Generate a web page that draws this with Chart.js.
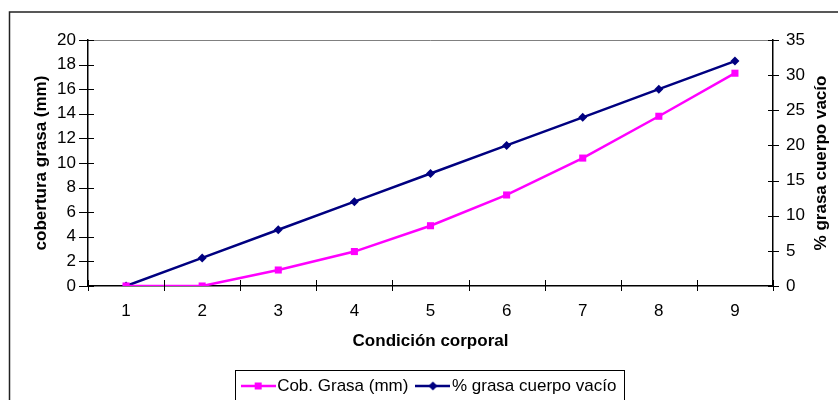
<!DOCTYPE html>
<html>
<head>
<meta charset="utf-8">
<script src="https://cdn.jsdelivr.net/npm/chart.js@4/dist/chart.umd.min.js"></script>
<style>
    html, body { margin: 0; padding: 0; background: #fff; }
    #wrap { width: 838px; height: 400px; position: relative; }
</style>
</head>
<body>
<div id="wrap"><canvas id="chart" width="838" height="400"></canvas></div>
<script>
// ==================== DATOS ====================
const categories = ['1', '2', '3', '4', '5', '6', '7', '8', '9'];
const cobGrasa = [0, 0, 1.3, 2.8, 4.9, 7.4, 10.4, 13.8, 17.3];
const grasaCuerpo = [0, 4, 8, 12, 16, 20, 24, 28, 32];
const rightTitle = '% grasa cuerpo vacío';

const PINK = '#ff00ff';
const NAVY = '#000080';
const FONT = 'Liberation Sans, Arial, sans-serif';

// icono de leyenda: línea + marcador
function legendIcon(color, style) {
    const c = document.createElement('canvas');
    c.width = 35;
    c.height = 12;
    const g = c.getContext('2d');
    g.strokeStyle = color;
    g.fillStyle = color;
    g.lineWidth = 2.5;
    g.beginPath();
    g.moveTo(0, 6);
    g.lineTo(35, 6);
    g.stroke();
    g.beginPath();
    if (style === 'rect') {
        g.rect(14, 2.5, 7, 7);
    } else {
        g.moveTo(17.5, 1.5);
        g.lineTo(22, 6);
        g.lineTo(17.5, 10.5);
        g.lineTo(13, 6);
        g.closePath();
    }
    g.fill();
    return c;
}

// marco exterior, ticks cruzados, título derecho y caja de la leyenda
const decorPlugin = {
    id: 'decor',
    afterLayout(chart) {
        const lg = chart.legend;
        const pad = lg.options.labels.padding;
        const top = 377.5 - pad;
        const h = lg.height;
        lg.top = top;
        lg.bottom = top + h;
    },
    beforeDraw(chart) {
        const ctx = chart.ctx;
        ctx.save();
        ctx.strokeStyle = '#222';
        ctx.lineWidth = 1.5;
        ctx.strokeRect(9.5, 12, 900, 500);
        ctx.restore();
    },
    afterDraw(chart) {
        const ctx = chart.ctx;
        const x = chart.scales.x;
        const yL = chart.scales.y;
        const yR = chart.scales.y2;
        ctx.save();
        ctx.strokeStyle = '#000';
        ctx.lineWidth = 1;
        ctx.beginPath();
        for (let i = 0; i <= categories.length; i++) {
            const px = Math.round(x.getPixelForValue(i - 0.5)) + 0.5;
            ctx.moveTo(px, x.top - 6);
            ctx.lineTo(px, x.top + 5);
        }
        yL.ticks.forEach((t, i) => {
            const py = Math.round(yL.getPixelForTick(i)) + 0.5;
            ctx.moveTo(yL.right - 9, py);
            ctx.lineTo(yL.right + 6, py);
        });
        yR.ticks.forEach((t, i) => {
            const py = Math.round(yR.getPixelForTick(i)) + 0.5;
            ctx.moveTo(yR.left - 5, py);
            ctx.lineTo(yR.left + 6, py);
        });
        ctx.stroke();

        // título del eje derecho (de abajo hacia arriba, como en Excel)
        ctx.save();
        ctx.translate(yR.right - 17, (yR.top + yR.bottom) / 2);
        ctx.rotate(-Math.PI / 2);
        ctx.fillStyle = '#000';
        ctx.font = 'bold 17px ' + FONT;
        ctx.textAlign = 'center';
        ctx.textBaseline = 'middle';
        ctx.fillText(rightTitle, 0, 0);
        ctx.restore();

        // caja de la leyenda
        const hb = chart.legend.legendHitBoxes;
        if (hb && hb.length) {
            const first = hb[0];
            const last = hb[hb.length - 1];
            ctx.strokeStyle = '#000';
            ctx.lineWidth = 1;
            const left = Math.round(first.left - 13) + 0.5;
            const right = Math.round(last.left + last.width + 8) + 0.5;
            const top = Math.round(first.top - 7.5) + 0.5;
            ctx.strokeRect(left, top, right - left, 60);
        }
        ctx.restore();
    }
};

// ==================== CHART ====================
const chart = new Chart(document.getElementById('chart').getContext('2d'), {
    type: 'line',
    data: {
        labels: categories,
        datasets: [{
            label: 'Cob. Grasa (mm)',
            data: cobGrasa,
            yAxisID: 'y',
            borderColor: PINK,
            backgroundColor: PINK,
            borderWidth: 2.5,
            pointStyle: 'rect',
            pointRadius: 5,
            pointBorderWidth: 0,
            tension: 0,
            fill: false
        }, {
            label: rightTitle,
            data: grasaCuerpo,
            yAxisID: 'y2',
            borderColor: NAVY,
            backgroundColor: NAVY,
            borderWidth: 2.5,
            pointStyle: 'rectRot',
            pointRadius: 4.5,
            pointBorderWidth: 0,
            tension: 0,
            fill: false
        }]
    },
    options: {
        responsive: false,
        animation: false,
        layout: { padding: { top: 40, left: 26, right: 0, bottom: 0 } },
        plugins: {
            tooltip: { enabled: false },
            legend: {
                position: 'bottom',
                labels: {
                    usePointStyle: true,
                    pointStyleWidth: 21,
                    padding: 14,
                    color: '#000',
                    font: { family: FONT, size: 17 },
                    generateLabels(ch) {
                        return ch.data.datasets.map((ds, i) => ({
                            text: ds.label,
                            pointStyle: legendIcon(ds.borderColor, ds.pointStyle),
                            fillStyle: ds.borderColor,
                            strokeStyle: ds.borderColor,
                            lineWidth: 0,
                            fontColor: '#000',
                            hidden: false,
                            datasetIndex: i
                        }));
                    }
                }
            }
        },
        scales: {
            x: {
                offset: true,
                afterFit(s) { s.height = 400 - 286 - s.chart.legend.height; },
                grid: { display: false, offset: true },
                border: { display: true, color: '#000', width: 1.5 },
                ticks: {
                    color: '#000',
                    padding: 7,
                    maxRotation: 0,
                    font: { family: FONT, size: 17 }
                },
                title: {
                    display: true,
                    text: 'Condición corporal',
                    color: '#000',
                    padding: { top: 0, bottom: 7 },
                    font: { family: FONT, size: 17, weight: 'bold' }
                }
            },
            y: {
                position: 'left',
                min: 0,
                max: 20,
                afterFit(s) { s.width = 62; },
                ticks: {
                    stepSize: 2,
                    color: '#000',
                    padding: 12,
                    font: { family: FONT, size: 17 }
                },
                grid: {
                    drawTicks: false,
                    color: c => (c.tick && c.tick.value === 20) ? '#808080' : 'rgba(0,0,0,0)',
                    lineWidth: 1
                },
                border: { display: true, color: '#000', width: 1.5 },
                title: {
                    display: true,
                    text: 'cobertura grasa (mm)',
                    color: '#000',
                    padding: { top: 5, bottom: 0 },
                    font: { family: FONT, size: 17, weight: 'bold' }
                }
            },
            y2: {
                position: 'right',
                min: 0,
                max: 35,
                afterFit(s) { s.width = 838 - 773; },
                ticks: {
                    stepSize: 5,
                    color: '#000',
                    padding: 13,
                    font: { family: FONT, size: 17 }
                },
                grid: { display: false, drawTicks: false },
                border: { display: true, color: '#000', width: 1.5 }
            }
        }
    },
    plugins: [decorPlugin]
});
</script>
</body>
</html>
